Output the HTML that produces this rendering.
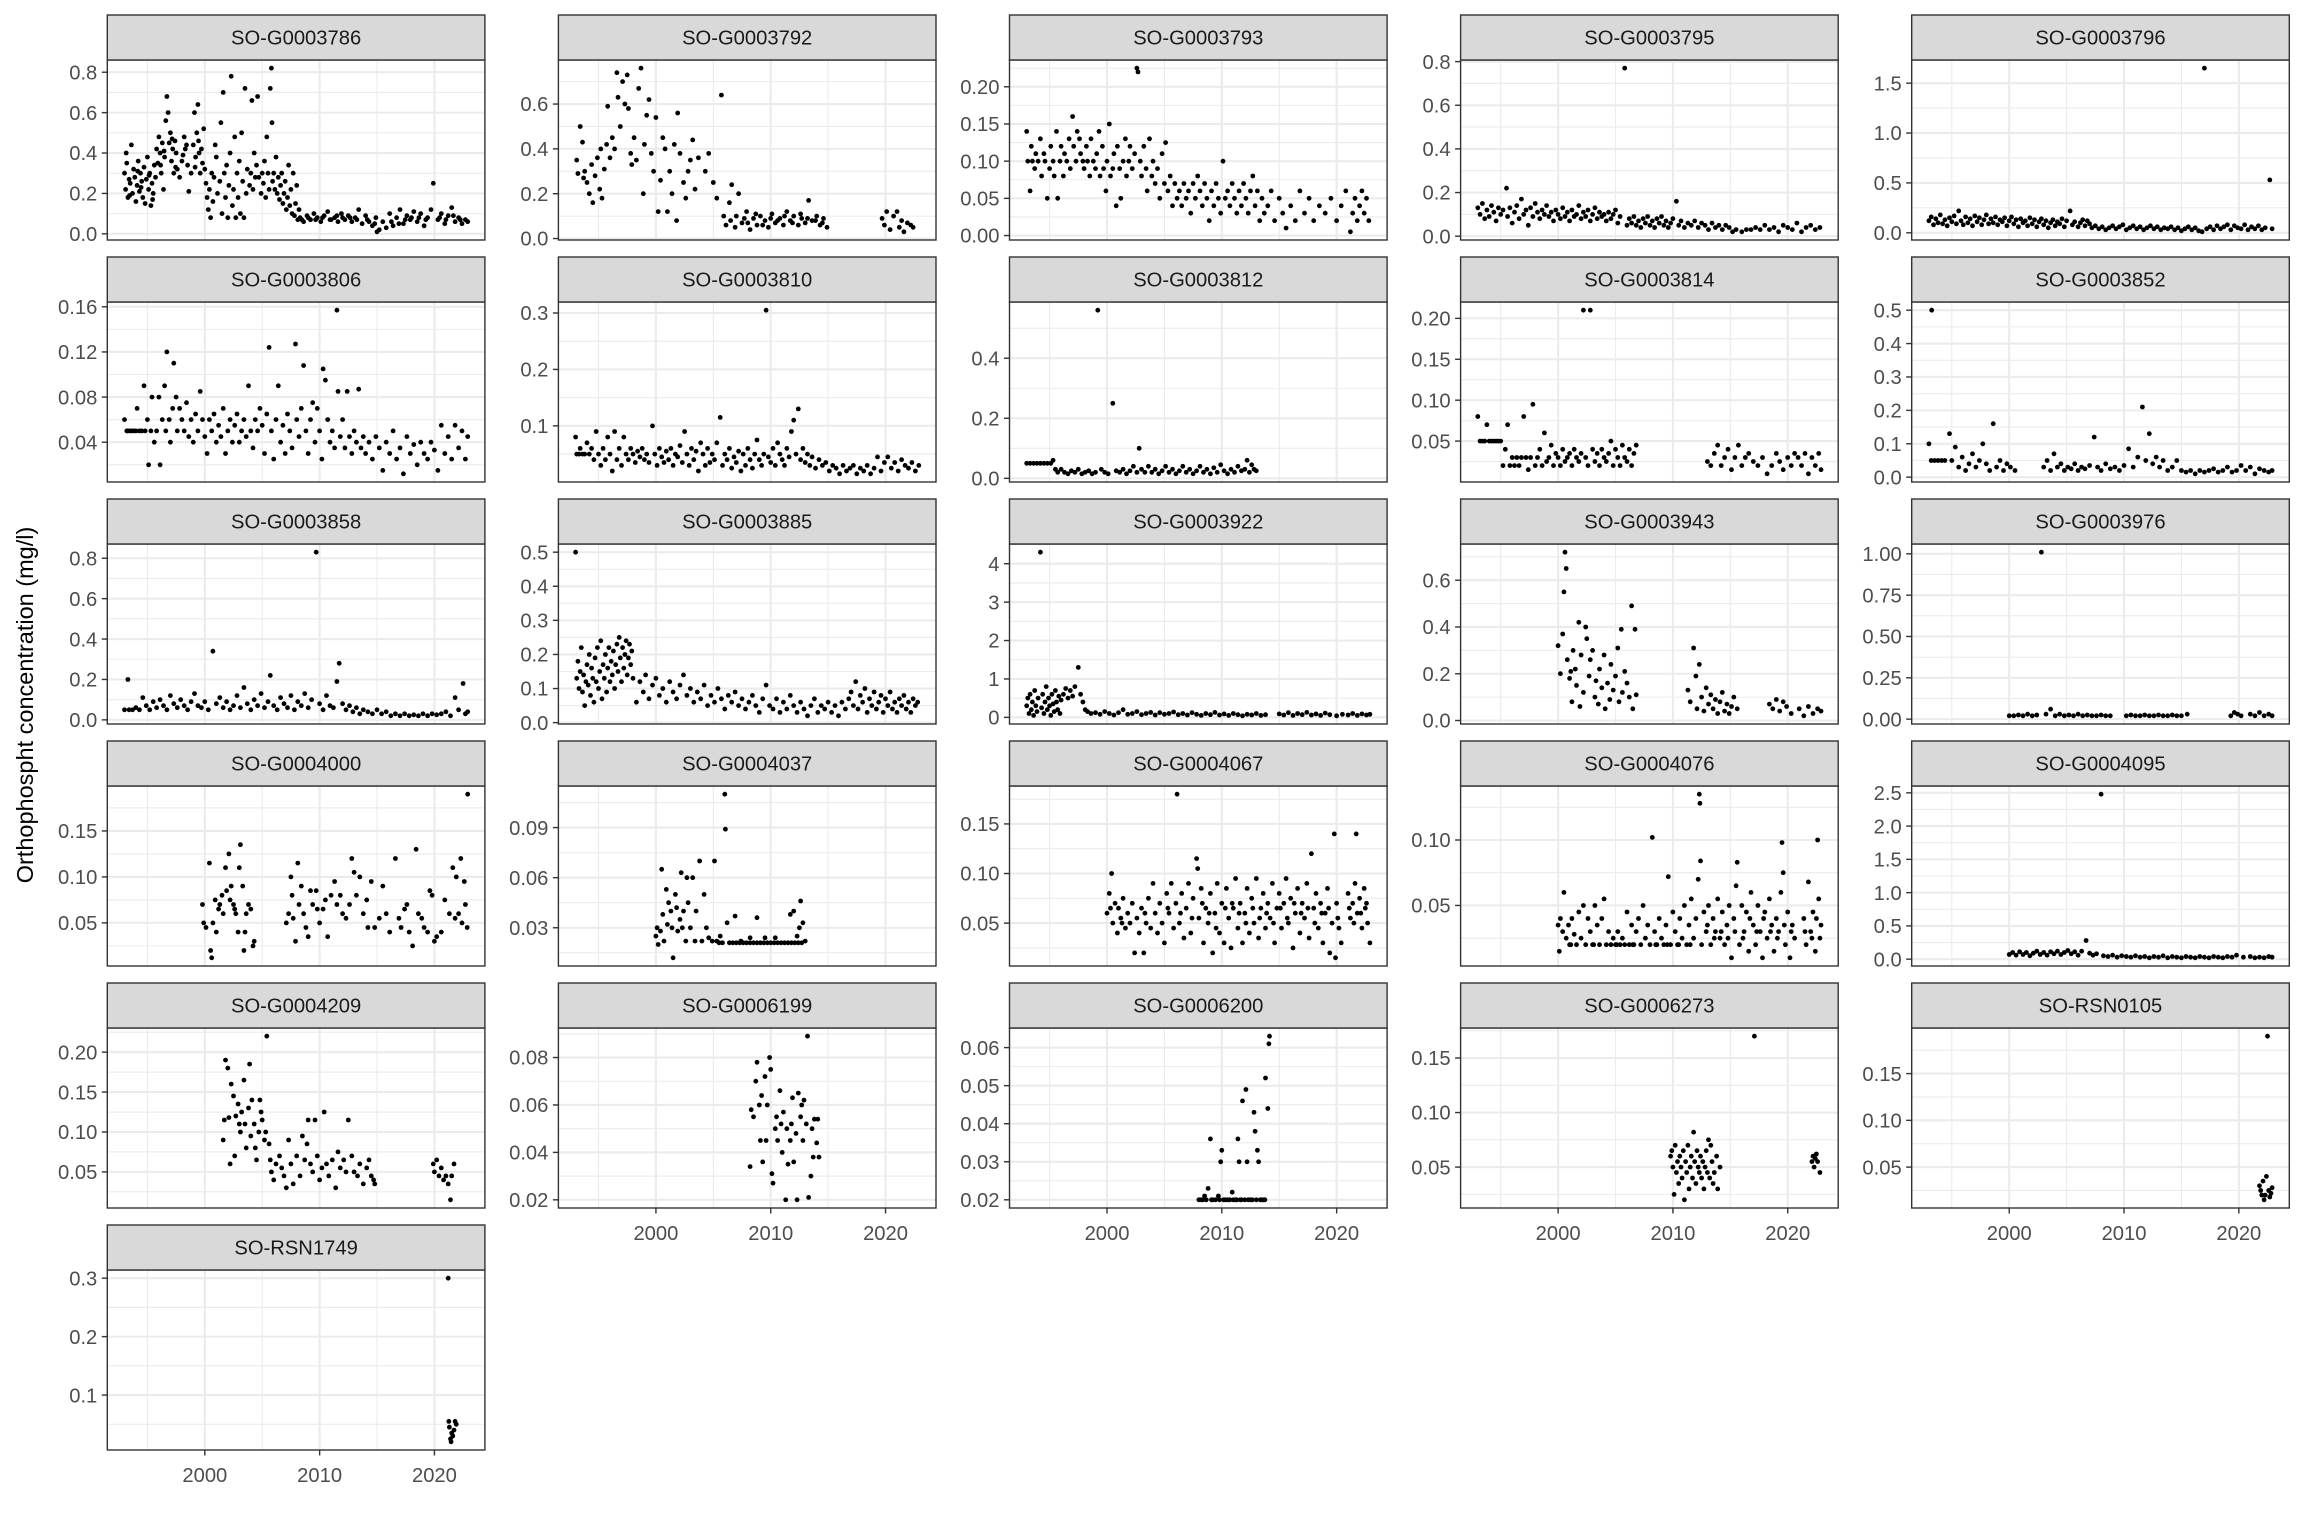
<!DOCTYPE html>
<html><head><meta charset="utf-8"><style>
html,body{margin:0;padding:0;background:#fff}
svg{display:block}
text{font-family:"Liberation Sans",sans-serif}
</style></head><body>
<svg id="chart" width="2304" height="1536" viewBox="0 0 2304 1536" xmlns="http://www.w3.org/2000/svg">
<rect x="0" y="0" width="2304" height="1536" fill="#fff"/>
<text x="0" y="0" transform="translate(33,705) rotate(-90)" text-anchor="middle" font-size="23.5" fill="#000">Orthophospht concentration (mg/l)</text>
</svg>
<script>
const stations = ["SO-G0003786","SO-G0003792","SO-G0003793","SO-G0003795","SO-G0003796","SO-G0003806","SO-G0003810","SO-G0003812","SO-G0003814","SO-G0003852","SO-G0003858","SO-G0003885","SO-G0003922","SO-G0003943","SO-G0003976","SO-G0004000","SO-G0004037","SO-G0004067","SO-G0004076","SO-G0004095","SO-G0004209","SO-G0006199","SO-G0006200","SO-G0006273","SO-RSN0105","SO-RSN1749"];
const xTicks = [2000,2010,2020];
const xMinor = [1995,2005,2015];
const xTickLabels = ["2000","2010","2020"];
const yTicks = [[0,.2,.4,.6,.8],[0,.2,.4,.6],[0,.05,.1,.15,.2],[0,.2,.4,.6,.8],[0,.5,1,1.5],[.04,.08,.12,.16],[0,.1,.2,.3],[0,.2,.4],[.05,.1,.15,.2],[0,.1,.2,.3,.4,.5],[0,.2,.4,.6,.8],[0,.1,.2,.3,.4,.5],[0,1,2,3,4],[0,.2,.4,.6],[0,.25,.5,.75,1],[.05,.1,.15],[.03,.06,.09],[.05,.1,.15],[.05,.1],[0,.5,1,1.5,2,2.5],[.05,.1,.15,.2],[.02,.04,.06,.08],[.02,.03,.04,.05,.06],[.05,.1,.15],[.05,.1,.15],[.1,.2,.3]];
const yTickLabels = [["0.0","0.2","0.4","0.6","0.8"],["0.0","0.2","0.4","0.6"],["0.00","0.05","0.10","0.15","0.20"],["0.0","0.2","0.4","0.6","0.8"],["0.0","0.5","1.0","1.5"],["0.04","0.08","0.12","0.16"],["0.0","0.1","0.2","0.3"],["0.0","0.2","0.4"],["0.05","0.10","0.15","0.20"],["0.0","0.1","0.2","0.3","0.4","0.5"],["0.0","0.2","0.4","0.6","0.8"],["0.0","0.1","0.2","0.3","0.4","0.5"],["0","1","2","3","4"],["0.0","0.2","0.4","0.6"],["0.00","0.25","0.50","0.75","1.00"],["0.05","0.10","0.15"],["0.03","0.06","0.09"],["0.05","0.10","0.15"],["0.05","0.10"],["0.0","0.5","1.0","1.5","2.0","2.5"],["0.05","0.10","0.15","0.20"],["0.02","0.04","0.06","0.08"],["0.02","0.03","0.04","0.05","0.06"],["0.05","0.10","0.15"],["0.05","0.10","0.15"],["0.1","0.2","0.3"]];

const s3786 = [1993.0,.30,1993.1,.22,1993.2,.35,1993.3,.18,1993.4,.27,1993.5,.25,1993.6,.44,1993.7,.20,1993.8,.32,1993.9,.28,1994.0,.16,1994.1,.24,1994.2,.36,1994.3,.21,1994.4,.30,1994.5,.26,1994.6,.18,1994.7,.33,1994.8,.15,1994.9,.27,1995.0,.38,1995.1,.22,1995.2,.30,1995.3,.14,1995.4,.25,1995.5,.20,1995.6,.34,1995.7,.28,1995.8,.42,1995.9,.35,1996.0,.48,1996.1,.40,1996.2,.30,1996.3,.45,1996.4,.22,1996.5,.38,1996.6,.56,1996.7,.68,1996.8,.60,1996.9,.45,1997.0,.50,1997.1,.36,1997.2,.42,1997.3,.30,1997.4,.46,1997.5,.40,1997.6,.32,1997.8,.28,1998.0,.36,1998.2,.48,1998.3,.42,1998.5,.34,1998.6,.21,1998.8,.30,1999.4,.64,1999.0,.44,1999.1,.60,1999.2,.38,1999.3,.50,1999.5,.40,1999.6,.30,1999.7,.42,1999.8,.35,1999.9,.52,2000.0,.32,2000.1,.25,2000.2,.18,2000.3,.12,2000.4,.22,2000.5,.08,2000.6,.30,2000.7,.16,2000.8,.28,2000.9,.44,2001.0,.38,2001.1,.20,2001.6,.70,2001.3,.26,2001.4,.55,2001.5,.10,2001.7,.30,2002.3,.78,2001.8,.18,2001.9,.34,2002.0,.08,2002.1,.24,2002.2,.40,2002.4,.14,2002.5,.22,2002.6,.48,2002.7,.08,2002.8,.30,2003.5,.72,2002.9,.18,2003.0,.36,2003.1,.10,2003.2,.50,2003.3,.26,2004.1,.66,2003.4,.08,2003.6,.20,2003.7,.32,2004.6,.68,2003.9,.24,2004.0,.30,2004.2,.22,2004.3,.40,2004.4,.28,2004.5,.34,2004.7,.28,2004.9,.20,2005.0,.30,2005.1,.25,2005.2,.36,2005.3,.18,2005.4,.48,2005.5,.30,2005.6,.22,2005.7,.72,2005.8,.82,2005.85,.55,2005.9,.26,2006.0,.30,2006.1,.22,2006.2,.38,2006.3,.20,2006.4,.28,2006.5,.17,2006.6,.24,2006.7,.30,2006.8,.15,2006.9,.20,2007.0,.26,2007.1,.12,2007.2,.18,2007.3,.34,2007.4,.14,2007.5,.22,2007.6,.10,2007.7,.30,2007.8,.09,2007.9,.15,2008.0,.24,2008.1,.07,2008.2,.12,2008.3,.08,2008.6,.06,2008.9,.09,2009.2,.07,2009.5,.10,2009.8,.08,2010.1,.06,2010.4,.09,2010.7,.11,2011.0,.07,2011.3,.08,2011.6,.06,2011.9,.10,2012.2,.07,2012.5,.09,2012.8,.06,2013.1,.08,2013.4,.12,2013.7,.05,2014.0,.09,2014.3,.06,2014.6,.04,2014.9,.08,2015.2,.02,2015.5,.06,2015.8,.03,2016.1,.10,2016.4,.04,2016.7,.08,2017.0,.12,2017.3,.05,2017.6,.09,2017.9,.07,2018.2,.11,2018.5,.06,2018.8,.10,2019.1,.04,2019.4,.08,2019.7,.12,2019.9,.25,2020.3,.07,2020.6,.10,2020.9,.05,2021.2,.09,2021.5,.13,2021.8,.06,2022.1,.08,2022.4,.05,2022.7,.07,2022.9,.06,2015.0,.01,1993.15,.40,1993.45,.19,1994.15,.31,1994.45,.23,1995.15,.29,1995.45,.17,1996.15,.34,1996.45,.41,1997.15,.47,1997.45,.33,1998.1,.39,1998.4,.44,1999.15,.33,1999.45,.46,2008.45,.07,2009.0,.08,2009.65,.07,2010.25,.08,2010.9,.07,2011.5,.09,2012.0,.08,2012.65,.08,2013.25,.07,2014.15,.07,2014.8,.05,2016.25,.06,2016.9,.05,2017.45,.07,2018.0,.08,2018.65,.08,2019.25,.07,2020.45,.08,2021.0,.07,2021.65,.09,2022.25,.07];
const s3792 = [1993.1,.35,1993.2,.29,1993.4,.50,1993.6,.43,1993.7,.27,1993.8,.30,1994.0,.25,1994.2,.20,1994.4,.33,1994.5,.16,1994.7,.28,1994.9,.36,1995.1,.22,1995.2,.40,1995.3,.18,1995.5,.31,1995.7,.42,1995.8,.59,1996.0,.36,1996.2,.45,1996.4,.40,1996.6,.74,1996.7,.63,1996.9,.50,1997.1,.70,1997.3,.60,1997.5,.73,1997.6,.58,1997.8,.38,1997.9,.33,1998.1,.45,1998.7,.76,1998.5,.67,1998.3,.35,1998.9,.20,1999.0,.42,1999.2,.55,1999.4,.62,1999.6,.38,1999.8,.30,2000.0,.54,2000.2,.12,2000.4,.26,2000.6,.45,2000.8,.40,2001.0,.12,2001.2,.30,2001.4,.20,2001.6,.42,2001.8,.08,2001.9,.56,2002.1,.38,2002.4,.25,2002.6,.18,2002.8,.30,2003.0,.35,2003.2,.44,2003.4,.22,2003.7,.36,2004.3,.30,2004.6,.38,2005.0,.25,2005.3,.18,2005.7,.64,2005.9,.10,2006.1,.06,2006.4,.16,2006.6,.24,2006.9,.05,2007.2,.20,2007.5,.07,2007.9,.12,2008.2,.04,2008.5,.09,2008.8,.06,2009.1,.10,2009.5,.08,2009.8,.05,2010.1,.11,2010.4,.07,2010.8,.09,2011.1,.06,2011.4,.12,2011.7,.08,2012.0,.10,2012.4,.06,2012.7,.09,2013.0,.07,2013.3,.17,2013.6,.08,2014.0,.10,2014.3,.06,2014.6,.09,2014.9,.05,2006.5,.08,2007.0,.10,2007.7,.09,2008.0,.07,2008.7,.11,2009.3,.06,2010.0,.09,2010.6,.08,2011.2,.10,2011.9,.07,2012.6,.11,2013.2,.09,2013.9,.08,2014.5,.07,2019.7,.09,2019.9,.06,2020.1,.12,2020.4,.04,2020.7,.10,2021.0,.12,2021.2,.05,2021.4,.08,2021.6,.03,2021.9,.07,2022.2,.06,2022.4,.05];
const s3793 = [1993.0,.14,1993.1,.10,1993.3,.06,1993.4,.12,1993.5,.10,1993.7,.09,1993.8,.11,1994.0,.10,1994.2,.13,1994.3,.08,1994.5,.11,1994.6,.10,1994.8,.05,1995.0,.09,1995.1,.12,1995.3,.10,1995.4,.08,1995.6,.14,1995.7,.05,1995.9,.10,1996.0,.12,1996.2,.08,1996.3,.11,1996.5,.10,1996.7,.13,1996.8,.09,1997.0,.16,1997.1,.12,1997.3,.10,1997.4,.14,1997.6,.13,1997.7,.11,1997.9,.10,1998.0,.09,1998.2,.12,1998.3,.10,1998.5,.08,1998.6,.13,1998.8,.10,1999.0,.09,1999.1,.11,1999.3,.14,1999.4,.08,1999.6,.12,1999.7,.09,1999.9,.06,2000.0,.10,2000.2,.15,2000.3,.08,2000.5,.09,2000.6,.11,2000.8,.04,2000.9,.12,2001.1,.09,2001.2,.05,2001.4,.10,2001.6,.13,2001.7,.08,2001.9,.10,2002.0,.12,2002.2,.09,2002.4,.11,2002.6,.225,2002.7,.22,2002.9,.10,2003.0,.08,2003.2,.12,2003.4,.09,2003.5,.06,2003.7,.13,2003.9,.08,2004.0,.10,2004.2,.07,2004.4,.09,2004.6,.05,2004.8,.11,2005.0,.07,2005.1,.125,2005.3,.06,2005.5,.08,2005.7,.04,2005.9,.07,2006.1,.05,2006.3,.06,2006.5,.04,2006.7,.07,2006.9,.05,2007.1,.06,2007.3,.03,2007.5,.07,2007.7,.05,2007.9,.08,2008.1,.06,2008.3,.04,2008.5,.07,2008.7,.05,2008.9,.02,2009.1,.06,2009.3,.04,2009.5,.07,2009.7,.05,2009.9,.03,2010.1,.10,2010.3,.05,2010.5,.06,2010.7,.04,2010.9,.07,2011.1,.05,2011.3,.03,2011.5,.06,2011.7,.04,2011.9,.07,2012.1,.05,2012.3,.03,2012.5,.06,2012.7,.08,2012.9,.04,2013.1,.06,2013.3,.02,2013.5,.05,2013.7,.03,2014.0,.04,2014.3,.06,2014.6,.02,2015.0,.05,2015.3,.03,2015.6,.01,2016.0,.04,2016.4,.02,2016.8,.06,2017.2,.03,2017.6,.05,2018.0,.02,2018.5,.04,2019.0,.03,2019.5,.05,2020.0,.02,2020.4,.04,2020.8,.06,2021.2,.005,2021.4,.03,2021.6,.05,2021.8,.02,2022.0,.04,2022.2,.06,2022.4,.03,2022.6,.05,2022.8,.02];
const s3795 = [1993.0,.13,1993.2,.10,1993.4,.15,1993.6,.08,1993.8,.12,1994.0,.09,1994.2,.14,1994.4,.11,1994.6,.07,1994.8,.13,1995.0,.10,1995.2,.12,1995.5,.22,1995.6,.09,1995.8,.13,1996.0,.06,1996.2,.11,1996.4,.14,1996.6,.08,1996.8,.17,1997.0,.10,1997.2,.12,1997.4,.05,1997.6,.13,1997.8,.09,1998.0,.15,1998.2,.11,1998.4,.08,1998.6,.12,1998.8,.10,1999.0,.14,1999.2,.09,1999.4,.11,1999.6,.07,1999.8,.12,2000.0,.10,2000.2,.08,2000.4,.13,2000.6,.09,2000.8,.11,2001.0,.07,2001.2,.12,2001.4,.09,2001.6,.10,2001.8,.14,2002.0,.08,2002.2,.11,2002.4,.09,2002.6,.12,2002.8,.07,2003.0,.10,2003.2,.13,2003.4,.08,2003.6,.11,2003.8,.09,2004.0,.10,2004.2,.07,2004.4,.11,2004.6,.08,2004.8,.10,2005.0,.12,2005.2,.06,2005.4,.09,2005.8,.77,2006.0,.05,2006.2,.08,2006.4,.06,2006.6,.09,2006.8,.05,2007.0,.07,2007.2,.04,2007.4,.08,2007.6,.06,2007.8,.09,2008.0,.05,2008.2,.07,2008.4,.04,2008.6,.08,2008.8,.06,2009.0,.09,2009.2,.05,2009.4,.07,2009.6,.04,2009.8,.06,2010.0,.08,2010.3,.16,2010.5,.05,2010.7,.07,2011.0,.04,2011.3,.06,2011.6,.05,2011.9,.07,2012.2,.04,2012.5,.06,2012.8,.05,2013.1,.03,2013.4,.06,2013.7,.04,2014.0,.05,2014.3,.03,2014.6,.05,2014.9,.04,2015.2,.02,2015.5,.03,2016.0,.02,2016.4,.03,2016.8,.03,2017.2,.04,2017.6,.03,2018.0,.05,2018.4,.03,2018.8,.04,2019.2,.02,2019.6,.05,2020.0,.04,2020.4,.03,2020.8,.06,2021.2,.02,2021.6,.04,2022.0,.05,2022.4,.03,2022.8,.04];
const s3796 = [1993.0,.12,1993.2,.16,1993.4,.08,1993.6,.14,1993.8,.10,1994.0,.18,1994.2,.09,1994.4,.13,1994.6,.07,1994.8,.15,1995.0,.11,1995.2,.17,1995.4,.09,1995.6,.22,1995.8,.12,1996.0,.08,1996.2,.16,1996.4,.10,1996.6,.14,1996.8,.07,1997.0,.17,1997.2,.11,1997.4,.15,1997.6,.08,1997.8,.13,1998.0,.18,1998.2,.09,1998.4,.14,1998.6,.10,1998.8,.16,1999.0,.08,1999.2,.13,1999.4,.11,1999.6,.15,1999.8,.07,2000.0,.12,2000.2,.16,2000.4,.09,2000.6,.13,2000.8,.06,2001.0,.14,2001.2,.10,2001.4,.12,2001.6,.07,2001.8,.15,2002.0,.09,2002.2,.13,2002.4,.06,2002.6,.11,2002.8,.14,2003.0,.08,2003.2,.12,2003.4,.05,2003.6,.10,2003.8,.13,2004.0,.07,2004.2,.11,2004.4,.09,2004.6,.14,2004.8,.06,2005.0,.12,2005.3,.22,2005.5,.08,2005.7,.11,2006.0,.06,2006.2,.10,2006.4,.13,2006.6,.07,2006.8,.12,2007.0,.09,2007.2,.05,2007.5,.07,2007.8,.04,2008.1,.06,2008.4,.03,2008.7,.05,2009.0,.07,2009.3,.04,2009.6,.06,2009.9,.08,2010.2,.03,2010.5,.05,2010.8,.07,2011.1,.04,2011.4,.06,2011.7,.03,2012.0,.05,2012.3,.07,2012.6,.04,2012.9,.06,2013.2,.03,2013.5,.05,2013.8,.04,2014.1,.06,2014.4,.03,2014.7,.05,2015.0,.02,2015.3,.04,2015.6,.06,2015.9,.03,2016.2,.05,2016.5,.02,2017.0,1.65,2016.8,.01,2017.2,.04,2017.5,.06,2017.8,.03,2018.1,.07,2018.4,.04,2018.7,.06,2019.0,.08,2019.3,.03,2019.6,.07,2019.9,.05,2020.2,.04,2020.5,.08,2020.8,.03,2021.1,.06,2021.4,.04,2021.7,.07,2022.0,.03,2022.3,.05,2022.7,.53,2022.9,.04];
const s3806 = [1993.0,.06,1993.2,.05,1993.3,.05,1993.5,.05,1993.6,.05,1993.8,.05,1994.0,.05,1994.1,.07,1994.3,.05,1994.5,.05,1994.7,.09,1994.8,.05,1995.0,.06,1995.1,.02,1995.3,.05,1995.4,.08,1995.6,.04,1995.8,.05,1996.0,.08,1996.1,.02,1996.3,.06,1996.5,.09,1996.6,.05,1996.7,.12,1996.9,.06,1997.0,.04,1997.2,.07,1997.3,.11,1997.5,.08,1997.6,.05,1997.8,.07,1998.0,.06,1998.2,.05,1998.4,.075,1998.6,.045,1998.8,.06,1999.0,.04,1999.2,.065,1999.4,.05,1999.6,.085,1999.8,.06,2000.0,.045,2000.2,.03,2000.4,.06,2000.6,.05,2000.8,.065,2001.0,.04,2001.2,.055,2001.4,.045,2001.6,.07,2001.8,.03,2002.0,.05,2002.2,.06,2002.4,.04,2002.6,.055,2002.8,.065,2003.0,.04,2003.2,.05,2003.4,.06,2003.6,.045,2003.8,.09,2004.0,.05,2004.2,.035,2004.4,.06,2004.6,.05,2004.8,.07,2005.0,.055,2005.2,.03,2005.4,.065,2005.6,.124,2005.8,.05,2006.0,.025,2006.2,.06,2006.4,.09,2006.6,.04,2006.8,.055,2007.0,.03,2007.2,.065,2007.4,.05,2007.6,.035,2007.9,.127,2008.0,.06,2008.2,.045,2008.4,.07,2008.6,.108,2008.8,.05,2009.0,.03,2009.2,.06,2009.4,.075,2009.6,.04,2009.8,.07,2010.0,.05,2010.2,.025,2010.3,.105,2010.5,.095,2010.7,.06,2010.9,.04,2011.1,.05,2011.3,.035,2011.5,.157,2011.6,.085,2011.8,.045,2012.0,.06,2012.2,.035,2012.4,.085,2012.6,.045,2012.8,.03,2013.0,.05,2013.2,.04,2013.4,.087,2013.6,.035,2013.8,.045,2014.0,.03,2014.3,.04,2014.6,.025,2014.9,.045,2015.2,.035,2015.5,.015,2015.8,.04,2016.1,.03,2016.4,.05,2016.7,.025,2017.0,.035,2017.3,.012,2017.6,.045,2017.9,.03,2018.2,.038,2018.5,.02,2018.8,.04,2019.1,.03,2019.4,.025,2019.7,.04,2020.0,.033,2020.3,.015,2020.6,.055,2020.9,.03,2021.2,.045,2021.5,.025,2021.8,.055,2022.1,.035,2022.4,.05,2022.7,.025,2022.9,.045];
const s3810 = [1993.0,.08,1993.1,.05,1993.3,.05,1993.4,.06,1993.6,.05,1993.8,.05,1994.0,.07,1994.2,.05,1994.4,.06,1994.6,.04,1994.8,.09,1995.0,.05,1995.2,.03,1995.4,.06,1995.6,.04,1995.8,.08,1996.0,.05,1996.2,.02,1996.4,.09,1996.6,.04,1996.8,.06,1997.0,.03,1997.2,.08,1997.4,.05,1997.6,.04,1997.8,.06,1998.0,.05,1998.2,.035,1998.4,.055,1998.6,.045,1998.8,.06,1999.0,.04,1999.2,.05,1999.4,.035,1999.7,.10,1999.9,.05,2000.1,.03,2000.3,.06,2000.5,.045,2000.7,.035,2000.9,.055,2001.1,.04,2001.3,.06,2001.5,.03,2001.7,.05,2001.9,.045,2002.1,.065,2002.3,.035,2002.5,.09,2002.7,.05,2002.9,.03,2003.1,.06,2003.3,.04,2003.5,.055,2003.7,.02,2003.9,.07,2004.1,.05,2004.3,.03,2004.5,.06,2004.7,.035,2004.9,.05,2005.1,.04,2005.3,.07,2005.6,.115,2005.8,.03,2006.0,.05,2006.2,.04,2006.4,.06,2006.6,.025,2006.8,.045,2007.0,.035,2007.2,.055,2007.4,.02,2007.6,.05,2007.8,.03,2008.0,.06,2008.2,.04,2008.4,.025,2008.6,.05,2008.8,.075,2009.0,.04,2009.2,.03,2009.4,.05,2009.6,.305,2009.8,.045,2010.0,.035,2010.2,.06,2010.4,.03,2010.6,.07,2010.8,.05,2011.0,.04,2011.2,.03,2011.4,.06,2011.6,.045,2011.8,.09,2012.0,.11,2012.2,.05,2012.4,.13,2012.6,.04,2012.8,.06,2013.0,.035,2013.2,.05,2013.4,.03,2013.6,.045,2013.9,.025,2014.2,.04,2014.5,.03,2014.8,.035,2015.1,.02,2015.4,.03,2015.7,.025,2016.0,.015,2016.3,.03,2016.6,.02,2016.9,.025,2017.2,.03,2017.5,.015,2017.8,.025,2018.1,.02,2018.4,.03,2018.7,.015,2019.0,.025,2019.3,.045,2019.6,.02,2019.9,.035,2020.2,.045,2020.5,.025,2020.8,.035,2021.1,.02,2021.4,.04,2021.7,.03,2022.0,.025,2022.3,.035,2022.6,.02,2022.9,.03];
const s3812 = [1993.0,.05,1993.3,.05,1993.6,.05,1993.9,.05,1994.2,.05,1994.5,.05,1994.8,.05,1995.1,.05,1995.3,.06,1995.5,.03,1995.7,.02,1996.0,.03,1996.3,.02,1996.6,.015,1996.9,.025,1997.2,.02,1997.5,.03,1997.8,.015,1998.1,.02,1998.4,.025,1998.7,.015,1999.0,.02,1999.2,.56,1999.5,.03,1999.8,.02,2000.1,.015,2000.5,.25,2000.8,.025,2001.1,.02,2001.4,.03,2001.7,.015,2002.0,.025,2002.3,.04,2002.6,.02,2002.8,.10,2003.0,.03,2003.3,.02,2003.6,.04,2003.9,.02,2004.2,.03,2004.5,.015,2004.8,.025,2005.1,.04,2005.4,.02,2005.7,.03,2006.0,.015,2006.3,.025,2006.6,.04,2006.9,.02,2007.2,.03,2007.5,.015,2007.8,.025,2008.1,.04,2008.4,.02,2008.7,.03,2009.0,.015,2009.3,.035,2009.6,.02,2009.9,.045,2010.2,.025,2010.5,.015,2010.8,.03,2011.1,.02,2011.4,.04,2011.7,.025,2012.0,.03,2012.2,.06,2012.4,.02,2012.6,.045,2012.8,.03,2013.0,.025];
const s3814 = [1993.0,.08,1993.2,.05,1993.4,.05,1993.6,.05,1993.8,.07,1994.0,.05,1994.2,.05,1994.4,.05,1994.6,.05,1994.8,.05,1995.0,.05,1995.2,.02,1995.4,.04,1995.6,.07,1995.8,.02,1996.0,.03,1996.2,.02,1996.4,.03,1996.6,.02,1996.8,.03,1997.0,.08,1997.2,.03,1997.4,.015,1997.6,.03,1997.8,.095,1998.0,.02,1998.2,.03,1998.4,.04,1998.6,.02,1998.8,.06,1999.0,.025,1999.2,.03,1999.4,.045,1999.6,.02,1999.8,.035,2000.0,.03,2000.2,.02,2000.4,.04,2000.6,.025,2000.8,.03,2001.0,.035,2001.2,.02,2001.4,.04,2001.6,.03,2001.8,.025,2002.0,.035,2002.2,.21,2002.4,.03,2002.6,.02,2002.8,.21,2003.0,.04,2003.2,.025,2003.4,.035,2003.6,.02,2003.8,.04,2004.0,.03,2004.2,.025,2004.4,.035,2004.6,.05,2004.8,.02,2005.0,.04,2005.2,.03,2005.4,.02,2005.6,.045,2005.8,.03,2006.0,.025,2006.2,.04,2006.4,.02,2006.6,.035,2006.8,.045,2013.0,.025,2013.3,.02,2013.6,.035,2013.9,.045,2014.2,.02,2014.5,.03,2014.8,.04,2015.1,.015,2015.4,.03,2015.7,.045,2016.0,.02,2016.3,.03,2016.6,.035,2017.0,.025,2017.4,.02,2017.8,.03,2018.2,.01,2018.6,.02,2019.0,.035,2019.3,.025,2019.6,.015,2020.0,.03,2020.3,.02,2020.6,.035,2020.9,.03,2021.2,.02,2021.5,.035,2021.8,.01,2022.1,.03,2022.4,.02,2022.7,.035,2022.9,.015];
const s3852 = [1993.0,.10,1993.2,.05,1993.25,.50,1993.5,.05,1993.8,.05,1994.1,.05,1994.4,.05,1994.8,.13,1995.0,.05,1995.3,.09,1995.6,.03,1995.9,.06,1996.2,.02,1996.5,.04,1996.8,.07,1997.1,.03,1997.4,.05,1997.7,.10,1998.0,.04,1998.3,.02,1998.6,.16,1998.9,.03,1999.2,.05,1999.5,.02,1999.8,.04,2000.1,.03,2000.5,.02,2003.0,.03,2003.3,.05,2003.6,.02,2003.9,.07,2004.2,.03,2004.5,.04,2004.8,.02,2005.1,.03,2005.4,.025,2005.7,.04,2006.0,.02,2006.3,.03,2006.6,.025,2007.0,.035,2007.4,.12,2007.7,.03,2008.0,.02,2008.4,.04,2008.8,.025,2009.2,.03,2009.6,.02,2010.0,.035,2010.4,.085,2010.8,.03,2011.2,.06,2011.6,.21,2011.9,.05,2012.2,.13,2012.5,.04,2012.8,.06,2013.1,.03,2013.4,.05,2013.8,.02,2014.2,.03,2014.6,.05,2015.0,.02,2015.4,.015,2015.8,.02,2016.2,.01,2016.6,.02,2017.0,.015,2017.4,.02,2017.8,.025,2018.2,.015,2018.6,.02,2019.0,.03,2019.4,.015,2019.8,.02,2020.2,.035,2020.6,.02,2021.0,.03,2021.4,.01,2021.8,.025,2022.2,.02,2022.6,.015,2022.9,.02];
const s3858 = [1993.0,.05,1993.3,.2,1993.4,.05,1993.7,.05,1994.0,.06,1994.3,.05,1994.6,.11,1994.9,.07,1995.2,.05,1995.5,.09,1995.8,.06,1996.1,.1,1996.4,.07,1996.7,.05,1997.0,.12,1997.3,.08,1997.6,.06,1997.9,.1,1998.2,.07,1998.5,.05,1998.8,.09,1999.1,.13,1999.4,.07,1999.7,.06,2000.0,.09,2000.3,.05,2000.7,.34,2001.0,.08,2001.3,.11,2001.6,.06,2001.9,.09,2002.2,.05,2002.5,.07,2002.8,.12,2003.1,.06,2003.4,.16,2003.7,.08,2004.0,.05,2004.3,.1,2004.6,.07,2004.9,.13,2005.2,.06,2005.5,.09,2005.7,.22,2006.0,.07,2006.3,.05,2006.6,.11,2006.9,.08,2007.2,.06,2007.5,.12,2007.8,.05,2008.1,.09,2008.4,.07,2008.7,.13,2009.0,.06,2009.3,.1,2009.7,.83,2010.0,.08,2010.3,.05,2010.6,.12,2010.9,.07,2011.2,.06,2011.5,.19,2011.7,.28,2012.0,.08,2012.3,.05,2012.6,.07,2012.9,.04,2013.2,.06,2013.5,.03,2013.8,.05,2014.2,.04,2014.6,.03,2015.0,.05,2015.4,.03,2015.8,.04,2016.2,.02,2016.6,.03,2017.0,.02,2017.4,.03,2017.8,.02,2018.2,.025,2018.6,.02,2019.0,.03,2019.4,.02,2019.8,.03,2020.2,.025,2020.6,.03,2021.0,.04,2021.4,.02,2021.8,.11,2022.1,.05,2022.5,.18,2022.7,.03,2022.9,.04];
const s3885 = [1993.0,.50,1993.1,.13,1993.2,.18,1993.3,.10,1993.4,.15,1993.5,.22,1993.6,.09,1993.7,.14,1993.8,.05,1993.9,.12,1994.0,.17,1994.1,.11,1994.2,.20,1994.3,.08,1994.4,.16,1994.5,.13,1994.6,.06,1994.7,.19,1994.8,.12,1994.9,.22,1995.0,.10,1995.1,.15,1995.2,.24,1995.3,.07,1995.4,.17,1995.5,.13,1995.6,.20,1995.7,.09,1995.8,.16,1995.9,.22,1996.0,.12,1996.1,.18,1996.2,.14,1996.3,.21,1996.4,.10,1996.5,.17,1996.6,.23,1996.7,.15,1996.8,.25,1996.9,.19,1997.0,.12,1997.1,.22,1997.2,.16,1997.3,.20,1997.4,.24,1997.5,.14,1997.6,.19,1997.7,.23,1997.8,.17,1997.9,.21,1998.0,.13,1998.3,.06,1998.6,.12,1998.9,.09,1999.1,.14,1999.4,.07,1999.7,.11,2000.0,.13,2000.3,.08,2000.6,.10,2000.9,.06,2001.2,.12,2001.5,.09,2001.8,.07,2002.1,.11,2002.4,.14,2002.7,.08,2003.0,.10,2003.3,.06,2003.6,.09,2003.9,.07,2004.2,.11,2004.5,.05,2004.8,.08,2005.1,.06,2005.4,.10,2005.7,.07,2006.0,.04,2006.3,.08,2006.6,.06,2006.9,.09,2007.2,.05,2007.5,.07,2007.8,.04,2008.1,.06,2008.4,.08,2008.7,.05,2009.0,.03,2009.3,.07,2009.6,.11,2009.9,.05,2010.2,.04,2010.5,.07,2010.8,.03,2011.1,.06,2011.4,.04,2011.7,.08,2012.0,.05,2012.3,.03,2012.6,.06,2012.9,.04,2013.2,.02,2013.5,.05,2013.8,.07,2014.1,.03,2014.4,.05,2014.7,.04,2015.0,.06,2015.3,.03,2015.6,.05,2015.9,.02,2016.2,.06,2016.5,.04,2016.8,.07,2017.0,.09,2017.2,.05,2017.4,.12,2017.6,.04,2017.8,.08,2018.0,.06,2018.2,.10,2018.4,.03,2018.6,.07,2018.8,.05,2019.0,.09,2019.2,.04,2019.4,.06,2019.6,.08,2019.8,.03,2020.0,.07,2020.2,.05,2020.4,.09,2020.6,.04,2020.8,.06,2021.0,.03,2021.2,.07,2021.4,.05,2021.6,.08,2021.8,.04,2022.0,.06,2022.2,.03,2022.4,.07,2022.6,.05,2022.8,.06];
const s3922 = [1993.0,.3,1993.1,.5,1993.2,.1,1993.3,.6,1993.4,.2,1993.5,.4,1993.6,.05,1993.7,.7,1993.8,.3,1993.9,.15,1994.0,.5,1994.2,4.3,1994.3,.25,1994.4,.6,1994.5,.1,1994.6,.4,1994.7,.8,1994.8,.2,1994.9,.5,1995.0,.3,1995.1,.05,1995.2,.6,1995.3,.35,1995.4,.15,1995.5,.7,1995.6,.4,1995.7,.2,1995.8,.55,1995.9,.1,1996.0,.45,1996.2,.6,1996.4,.75,1996.6,.5,1996.8,.7,1997.0,.55,1997.2,.8,1997.5,1.3,1997.7,.6,1997.9,.4,1998.1,.2,1998.3,.15,1998.6,.1,1999.0,.12,1999.4,.08,1999.8,.15,2000.2,.1,2000.6,.06,2001.0,.12,2001.4,.2,2001.8,.08,2002.2,.1,2002.6,.15,2003.0,.07,2003.4,.1,2003.8,.13,2004.2,.06,2004.6,.12,2005.0,.08,2005.4,.1,2005.8,.14,2006.2,.07,2006.6,.1,2007.0,.06,2007.4,.12,2007.8,.08,2008.2,.05,2008.6,.1,2009.0,.07,2009.4,.13,2009.8,.06,2010.2,.09,2010.6,.05,2011.0,.1,2011.4,.07,2011.8,.04,2012.2,.08,2012.6,.06,2013.0,.1,2013.4,.05,2013.8,.07,2015.0,.09,2015.4,.06,2015.8,.12,2016.2,.05,2016.6,.1,2017.0,.07,2017.4,.13,2017.8,.06,2018.2,.09,2018.6,.05,2019.0,.11,2019.4,.07,2020.0,.04,2020.5,.08,2021.0,.06,2021.4,.1,2021.8,.05,2022.2,.09,2022.6,.06,2022.9,.08];
const s3943 = [2000.0,.32,2000.2,.20,2000.4,.37,2000.5,.55,2000.6,.72,2000.7,.65,2000.8,.26,2001.0,.18,2001.1,.21,2001.2,.08,2001.3,.30,2001.5,.22,2001.6,.15,2001.8,.42,2001.9,.06,2002.0,.28,2002.2,.12,2002.4,.40,2002.5,.35,2002.7,.19,2002.8,.26,2003.0,.30,2003.2,.10,2003.3,.17,2003.5,.07,2003.6,.22,2003.8,.14,2004.0,.28,2004.1,.05,2004.3,.16,2004.5,.09,2004.6,.24,2004.8,.13,2005.0,.19,2005.2,.31,2005.3,.08,2005.5,.39,2005.6,.12,2005.8,.21,2006.0,.16,2006.2,.10,2006.4,.49,2006.5,.05,2006.7,.39,2006.8,.11,2011.3,.13,2011.5,.08,2011.8,.31,2012.0,.19,2012.1,.05,2012.3,.24,2012.5,.10,2012.7,.04,2012.9,.14,2013.1,.07,2013.3,.11,2013.5,.05,2013.7,.09,2013.9,.03,2014.1,.08,2014.3,.12,2014.5,.04,2014.7,.07,2014.9,.03,2015.1,.06,2015.3,.10,2015.6,.05,2018.4,.07,2018.7,.05,2019.0,.09,2019.3,.04,2019.6,.08,2019.9,.06,2020.3,.03,2021.0,.05,2021.4,.02,2021.8,.06,2022.2,.03,2022.6,.05,2022.9,.04];
const s3976 = [2000.0,.02,2000.4,.02,2000.8,.025,2001.2,.02,2001.6,.03,2002.0,.02,2002.4,.025,2002.8,1.01,2003.2,.03,2003.6,.06,2004.0,.02,2004.4,.03,2004.8,.02,2005.2,.025,2005.6,.02,2006.0,.03,2006.4,.02,2006.8,.025,2007.2,.02,2007.6,.02,2008.0,.025,2008.4,.02,2008.8,.02,2010.2,.02,2010.6,.025,2011.0,.02,2011.4,.02,2011.8,.025,2012.2,.02,2012.6,.02,2013.0,.025,2013.4,.02,2013.8,.02,2014.2,.025,2014.6,.02,2015.0,.02,2015.5,.03,2019.3,.02,2019.6,.04,2019.9,.03,2020.2,.02,2021.0,.03,2021.4,.02,2021.8,.04,2022.2,.02,2022.6,.03,2022.9,.02];
const s4000 = [1999.8,.07,1999.9,.05,2000.1,.045,2000.4,.115,2000.5,.02,2000.6,.012,2000.7,.05,2000.9,.075,2001.0,.04,2001.2,.065,2001.3,.07,2001.5,.08,2001.6,.06,2001.8,.11,2001.9,.085,2002.1,.125,2002.2,.075,2002.3,.09,2002.5,.07,2002.6,.065,2002.7,.06,2002.9,.04,2003.0,.11,2003.1,.135,2003.3,.09,2003.4,.02,2003.5,.04,2003.6,.06,2003.8,.07,2004.0,.065,2004.2,.025,2004.3,.03,2007.1,.05,2007.3,.06,2007.5,.10,2007.6,.08,2007.7,.055,2007.9,.03,2008.1,.115,2008.2,.07,2008.4,.09,2008.6,.06,2008.8,.045,2009.0,.035,2009.2,.085,2009.4,.07,2009.7,.085,2009.8,.065,2010.0,.05,2010.3,.065,2010.5,.075,2010.7,.035,2011.0,.08,2011.3,.095,2011.5,.07,2011.8,.08,2012.0,.06,2012.3,.055,2012.6,.07,2012.8,.12,2013.0,.105,2013.2,.08,2013.5,.1,2013.8,.06,2014.1,.075,2014.2,.045,2014.5,.095,2014.8,.045,2015.2,.055,2015.5,.09,2015.8,.06,2016.1,.04,2016.6,.12,2016.9,.055,2017.1,.045,2017.4,.065,2017.6,.07,2017.8,.04,2018.1,.025,2018.4,.13,2018.6,.06,2018.9,.055,2019.1,.045,2019.4,.04,2019.6,.085,2019.8,.08,2020.0,.03,2020.2,.035,2020.6,.04,2020.9,.075,2021.3,.06,2021.6,.11,2021.8,.055,2021.9,.1,2022.1,.06,2022.3,.12,2022.4,.05,2022.6,.095,2022.7,.07,2022.9,.19,2022.85,.045];
const s4037 = [2000.0,.025,2000.1,.03,2000.2,.02,2000.4,.028,2000.5,.065,2000.6,.038,2000.7,.022,2000.9,.053,2001.0,.032,2001.1,.045,2001.3,.04,2001.4,.03,2001.5,.012,2001.7,.05,2001.8,.042,2001.9,.028,2002.1,.035,2002.2,.063,2002.3,.03,2002.4,.04,2002.6,.022,2002.7,.06,2002.8,.045,2003.0,.03,2003.2,.06,2003.4,.022,2003.5,.04,2003.8,.07,2004.0,.022,2004.2,.05,2004.4,.03,2004.6,.024,2004.9,.022,2005.1,.07,2005.3,.022,2005.6,.025,2006.0,.11,2006.05,.089,2006.2,.033,2006.9,.037,2007.4,.022,2008.2,.024,2008.8,.036,2009.5,.024,2010.4,.024,2011.7,.038,2012.0,.04,2012.3,.025,2012.5,.03,2012.6,.046,2012.8,.033,2013.0,.022,2005.5,.021,2005.8,.021,2006.4,.021,2006.7,.021,2007.0,.021,2007.3,.021,2007.6,.021,2007.9,.021,2008.2,.021,2008.5,.021,2008.8,.021,2009.1,.021,2009.4,.021,2009.7,.021,2010.0,.021,2010.3,.021,2010.6,.021,2010.9,.021,2011.2,.021,2011.5,.021,2011.8,.021,2012.1,.021,2012.4,.021,2012.7,.021];
const s4067 = [2000.0,.06,2000.2,.08,2000.4,.10,2000.5,.05,2000.7,.07,2000.9,.04,2001.0,.065,2001.2,.055,2001.4,.075,2001.6,.045,2001.8,.06,2002.0,.05,2002.2,.07,2002.4,.02,2002.6,.055,2002.8,.04,2003.0,.065,2003.2,.02,2003.4,.05,2003.6,.075,2003.8,.045,2004.0,.09,2004.2,.06,2004.4,.04,2004.6,.07,2004.8,.05,2005.0,.03,2005.2,.08,2005.4,.06,2005.6,.09,2005.8,.045,2006.0,.07,2006.1,.18,2006.3,.05,2006.5,.08,2006.7,.035,2006.9,.065,2007.1,.09,2007.3,.04,2007.5,.075,2007.8,.115,2007.9,.105,2008.0,.055,2008.2,.085,2008.4,.03,2008.6,.065,2008.8,.05,2009.0,.08,2009.2,.02,2009.4,.06,2009.6,.09,2009.8,.04,2010.0,.07,2010.2,.03,2010.4,.085,2010.6,.055,2010.8,.025,2011.0,.065,2011.2,.095,2011.4,.045,2011.6,.07,2011.8,.03,2012.0,.06,2012.2,.085,2012.4,.04,2012.6,.075,2012.8,.05,2013.0,.095,2013.2,.035,2013.4,.065,2013.6,.08,2013.8,.045,2014.0,.07,2014.2,.055,2014.4,.09,2014.6,.03,2014.8,.065,2015.0,.08,2015.2,.045,2015.4,.07,2015.6,.095,2015.8,.05,2016.0,.075,2016.2,.025,2016.4,.06,2016.6,.085,2016.8,.04,2017.0,.07,2017.2,.055,2017.4,.09,2017.6,.035,2017.8,.12,2018.0,.065,2018.2,.08,2018.4,.045,2018.6,.07,2018.8,.03,2019.0,.06,2019.2,.085,2019.4,.02,2019.6,.05,2019.8,.14,2019.9,.015,2020.0,.07,2020.2,.045,2020.4,.03,2021.0,.08,2021.2,.055,2021.4,.07,2021.6,.09,2021.7,.14,2021.8,.06,2022.0,.075,2022.2,.045,2022.4,.085,2022.5,.065,2022.7,.05,2022.9,.03,2000.3,.065,2001.3,.05,2003.3,.06,2005.3,.065,2006.4,.06,2007.4,.055,2008.3,.07,2008.9,.06,2009.5,.045,2010.3,.065,2010.9,.07,2011.5,.06,2012.1,.05,2012.7,.065,2013.3,.055,2013.9,.06,2014.5,.05,2015.1,.065,2015.7,.055,2016.3,.07,2016.9,.06,2017.5,.065,2018.1,.05,2018.7,.06,2019.3,.065,2020.1,.055,2021.1,.065,2021.5,.05,2022.1,.06,2022.6,.07];
const s4076 = [2000.0,.035,2000.1,.015,2000.2,.04,2000.4,.03,2000.5,.06,2000.7,.025,2000.9,.035,2001.0,.02,2001.2,.04,2001.4,.028,2001.6,.02,2001.8,.045,2002.0,.025,2002.2,.05,2002.4,.02,2002.6,.04,2002.8,.03,2003.0,.02,2003.2,.05,2003.4,.035,2003.6,.02,2003.8,.04,2004.0,.055,2004.2,.02,2004.4,.03,2004.6,.02,2004.8,.025,2005.0,.02,2005.2,.03,2005.4,.02,2005.6,.025,2005.8,.02,2006.0,.045,2006.2,.02,2006.4,.035,2006.6,.02,2006.8,.03,2007.0,.04,2007.2,.02,2007.4,.05,2007.6,.025,2007.8,.035,2008.0,.02,2008.2,.102,2008.4,.03,2008.6,.02,2008.8,.04,2009.0,.025,2009.2,.02,2009.4,.035,2009.6,.072,2009.8,.02,2010.0,.045,2010.2,.03,2010.4,.02,2010.6,.04,2010.8,.025,2011.0,.05,2011.2,.02,2011.4,.035,2011.6,.055,2011.8,.025,2012.0,.04,2012.2,.07,2012.3,.135,2012.35,.128,2012.4,.084,2012.5,.02,2012.7,.045,2012.9,.03,2013.1,.05,2013.3,.02,2013.5,.04,2013.7,.03,2013.9,.055,2014.1,.025,2014.3,.045,2014.5,.02,2014.7,.035,2014.9,.05,2015.1,.01,2015.3,.04,2015.5,.065,2015.6,.083,2015.8,.02,2016.0,.05,2016.2,.03,2016.4,.045,2016.6,.015,2016.8,.06,2017.0,.035,2017.2,.02,2017.4,.05,2017.6,.03,2017.8,.01,2018.0,.045,2018.2,.025,2018.4,.055,2018.6,.035,2018.8,.015,2019.0,.04,2019.2,.03,2019.4,.06,2019.5,.098,2019.6,.075,2019.8,.02,2020.0,.045,2020.2,.01,2020.4,.035,2020.6,.025,2021.4,.04,2021.6,.02,2021.8,.068,2022.0,.03,2022.2,.045,2022.4,.015,2022.6,.1,2022.7,.055,2022.8,.025,2022.9,.035,2001.1,.02,2003.1,.02,2005.1,.02,2006.5,.02,2008.5,.02,2009.5,.02,2010.5,.02,2011.5,.02,2013.0,.035,2013.6,.025,2014.2,.03,2014.8,.025,2015.4,.03,2016.1,.025,2016.7,.04,2017.3,.03,2017.9,.04,2018.5,.03,2019.1,.025,2019.7,.035,2020.3,.03,2021.5,.03,2022.1,.025,2022.5,.04];
const s4095 = [2000.0,.07,2000.3,.10,2000.6,.06,2000.9,.11,2001.2,.07,2001.5,.10,2001.8,.05,2002.1,.09,2002.4,.12,2002.7,.07,2003.0,.10,2003.3,.06,2003.6,.11,2003.9,.08,2004.2,.12,2004.5,.07,2004.8,.10,2005.1,.13,2005.4,.08,2005.7,.11,2006.0,.06,2006.3,.12,2006.7,.28,2007.0,.09,2007.3,.06,2007.6,.08,2008.0,2.48,2008.2,.05,2008.6,.04,2009.0,.06,2009.4,.03,2009.8,.05,2010.2,.04,2010.6,.03,2011.0,.05,2011.4,.03,2011.8,.04,2012.2,.02,2012.6,.04,2013.0,.03,2013.4,.05,2013.8,.02,2014.2,.04,2014.6,.03,2015.0,.02,2015.4,.04,2015.8,.03,2016.2,.02,2016.6,.04,2017.0,.03,2017.4,.02,2017.8,.04,2018.2,.03,2018.6,.02,2019.0,.04,2019.4,.03,2019.8,.06,2020.4,.03,2021.0,.04,2021.4,.02,2021.8,.03,2022.2,.02,2022.6,.04,2022.9,.03];
const s4209 = [2001.6,.09,2001.7,.115,2001.8,.19,2002.0,.18,2002.1,.118,2002.2,.06,2002.3,.16,2002.5,.145,2002.6,.07,2002.7,.12,2002.9,.135,2003.0,.11,2003.1,.1,2003.2,.125,2003.4,.165,2003.5,.11,2003.6,.08,2003.8,.13,2003.9,.185,2004.0,.095,2004.1,.14,2004.3,.11,2004.4,.08,2004.5,.065,2004.7,.1,2004.8,.14,2004.9,.125,2005.0,.115,2005.2,.09,2005.3,.1,2005.4,.22,2005.6,.085,2005.7,.065,2005.8,.05,2006.0,.04,2006.2,.06,2006.5,.07,2006.7,.055,2006.9,.045,2007.1,.03,2007.3,.09,2007.5,.06,2007.7,.035,2008.0,.07,2008.3,.045,2008.5,.095,2008.7,.065,2008.9,.085,2009.0,.115,2009.2,.06,2009.4,.05,2009.6,.115,2009.8,.07,2010.0,.04,2010.2,.055,2010.4,.125,2010.6,.06,2010.8,.045,2011.1,.065,2011.4,.03,2011.6,.075,2011.8,.055,2012.1,.065,2012.3,.05,2012.5,.115,2012.8,.07,2013.0,.05,2013.3,.045,2013.5,.06,2013.8,.035,2014.1,.055,2014.3,.065,2014.5,.045,2014.7,.04,2014.8,.035,2019.9,.06,2020.0,.05,2020.2,.065,2020.4,.045,2020.6,.055,2020.8,.04,2021.0,.045,2021.2,.035,2021.4,.015,2021.5,.045,2021.7,.06];
const s6199 = [2008.2,.034,2008.3,.058,2008.5,.055,2008.7,.07,2008.8,.078,2009.0,.06,2009.1,.045,2009.2,.064,2009.3,.036,2009.5,.072,2009.6,.045,2009.7,.06,2009.9,.08,2010.0,.075,2010.1,.031,2010.2,.027,2010.4,.05,2010.5,.055,2010.6,.045,2010.8,.066,2010.9,.052,2011.0,.04,2011.1,.057,2011.3,.02,2011.4,.05,2011.5,.035,2011.7,.045,2011.8,.052,2011.9,.063,2012.0,.036,2012.2,.048,2012.3,.02,2012.4,.065,2012.6,.055,2012.7,.06,2012.8,.045,2012.9,.062,2013.1,.052,2013.2,.089,2013.3,.021,2013.5,.03,2013.6,.05,2013.7,.038,2013.8,.054,2014.0,.044,2014.1,.054,2014.2,.038];
const s6200 = [2008.2,.02,2008.5,.021,2008.8,.023,2009.0,.036,2009.2,.02,2009.7,.021,2009.9,.03,2010.0,.033,2010.3,.02,2010.9,.022,2011.2,.02,2011.4,.036,2011.5,.03,2011.7,.02,2011.8,.046,2012.1,.049,2012.2,.03,2012.5,.02,2012.8,.043,2012.9,.038,2013.1,.033,2013.2,.03,2013.5,.02,2013.6,.02,2013.8,.052,2014.0,.044,2014.1,.061,2014.15,.063,2008.0,.02,2008.35,.02,2008.65,.02,2009.1,.02,2009.45,.02,2009.8,.02,2010.15,.02,2010.5,.02,2010.7,.02,2011.0,.02,2011.3,.02,2011.6,.02,2012.0,.02,2012.3,.02,2012.65,.02,2013.0,.02,2013.35,.02,2013.75,.02];
const s6273 = [2009.8,.06,2009.9,.065,2010.0,.05,2010.1,.025,2010.2,.07,2010.3,.045,2010.4,.055,2010.5,.035,2010.6,.06,2010.7,.05,2010.8,.04,2010.9,.065,2011.0,.02,2011.1,.055,2011.2,.045,2011.3,.07,2011.4,.03,2011.5,.05,2011.6,.06,2011.7,.04,2011.8,.082,2011.9,.055,2012.0,.035,2012.1,.065,2012.2,.05,2012.3,.045,2012.4,.06,2012.5,.04,2012.6,.055,2012.7,.03,2012.8,.05,2012.9,.065,2013.0,.045,2013.1,.075,2013.2,.04,2013.3,.07,2013.4,.055,2013.5,.035,2013.6,.045,2013.8,.06,2013.9,.03,2014.1,.05,2017.1,.17,2022.1,.055,2022.2,.06,2022.3,.05,2022.4,.058,2022.5,.062,2022.6,.055,2022.8,.045];
const sR0105 = [2021.8,.03,2021.9,.025,2022.0,.02,2022.1,.035,2022.2,.015,2022.3,.02,2022.4,.04,2022.5,.19,2022.6,.025,2022.7,.018,2022.8,.022,2022.9,.028];
const sR1749 = [2021.2,.30,2021.25,.055,2021.3,.045,2021.4,.025,2021.45,.02,2021.5,.035,2021.6,.03,2021.7,.04,2021.8,.055,2021.9,.05];
const series = [s3786,s3792,s3793,s3795,s3796,s3806,s3810,s3812,s3814,s3852,s3858,s3885,s3922,s3943,s3976,s4000,s4037,s4067,s4076,s4095,s4209,s6199,s6200,s6273,sR0105,sR1749];

const NS = "http://www.w3.org/2000/svg";
const svg = document.getElementById('chart');
function mk(tag, attrs, parent){ const e=document.createElementNS(NS,tag); for(const k in attrs) e.setAttribute(k,attrs[k]); (parent||svg).appendChild(e); return e; }

const COL_X0 = 107.3, COL_PITCH = 451.1, PW = 377.6;
const ROW_Y0 = 15, ROW_PITCH = 242, STRIP_H = 45, PH = 180;
const FS = 20.2;

let gxMin = Infinity, gxMax = -Infinity;
series.forEach(s => { for (let i=0;i<s.length;i+=2){ gxMin=Math.min(gxMin,s[i]); gxMax=Math.max(gxMax,s[i]); } });
const gxr = gxMax-gxMin;
const xLo = gxMin-0.05*gxr, xHi = gxMax+0.05*gxr;

stations.forEach((name, idx) => {
  const col = idx % 5, row = Math.floor(idx / 5);
  const px = COL_X0 + col*COL_PITCH;
  const sy = ROW_Y0 + row*ROW_PITCH;
  const py = sy + STRIP_H;
  const s = series[idx];
  let ymin=Infinity, ymax=-Infinity;
  for (let i=1;i<s.length;i+=2){ ymin=Math.min(ymin,s[i]); ymax=Math.max(ymax,s[i]); }
  const yr = ymax-ymin;
  const yLo = ymin-0.05*yr, yHi = ymax+0.05*yr;
  const X = v => px + (v-xLo)/(xHi-xLo)*PW;
  const Y = v => py + PH - (v-yLo)/(yHi-yLo)*PH;

  const g = mk('g', {});
  
  
  const bg = mk('rect', {x:px, y:py, width:PW, height:PH, fill:'#fff'}, g);
  
  

  const t = yTicks[idx];
  const step = t.length>1 ? t[1]-t[0] : 0.1;
  const minors = [t[0]-step/2];
  for (let i=0;i<t.length;i++) minors.push(t[i]+step/2);
  minors.forEach(m => { if (m>yLo && m<yHi) { const l=mk('line',{x1:px,x2:px+PW,y1:Y(m),y2:Y(m),stroke:'#ebebeb','stroke-width':1.1},g);   } });
  xMinor.forEach(m => { const l=mk('line',{x1:X(m),x2:X(m),y1:py,y2:py+PH,stroke:'#ebebeb','stroke-width':1.1},g);   });
  t.forEach(v => { if (v>=yLo && v<=yHi){ const l=mk('line',{x1:px,x2:px+PW,y1:Y(v),y2:Y(v),stroke:'#ebebeb','stroke-width':2.1},g);   } });
  xTicks.forEach(v => { const l=mk('line',{x1:X(v),x2:X(v),y1:py,y2:py+PH,stroke:'#ebebeb','stroke-width':2.1},g);   });

  const pg = mk('g', {fill:'#000'}, g);
  
  
  for (let i=0;i<s.length;i+=2){
    const c = mk('circle', {cx:X(s[i]).toFixed(1), cy:Y(s[i+1]).toFixed(1), r:2.4}, pg);
    
    
  }

  const border = mk('rect', {x:px, y:py, width:PW, height:PH, fill:'none', stroke:'#333', 'stroke-width':1.4}, g);
  
  

  const st = mk('rect', {x:px, y:sy, width:PW, height:STRIP_H, fill:'#d9d9d9', stroke:'#333', 'stroke-width':1.4}, g);
  
  
  const stt = mk('text', {x:px+PW/2, y:sy+STRIP_H/2+7.2, 'text-anchor':'middle', 'font-size':FS, fill:'#1a1a1a'}, g);
  stt.textContent = name;
  
  

  t.forEach((v,i) => {
    if (v<yLo || v>yHi) return;
    const tk = mk('line', {x1:px-5.5, x2:px, y1:Y(v), y2:Y(v), stroke:'#333', 'stroke-width':1.4}, g);
    
    
    const tl = mk('text', {x:px-10, y:Y(v)+7.2, 'text-anchor':'end', 'font-size':FS, fill:'#4d4d4d'}, g);
    tl.textContent = yTickLabels[idx][i];
    
    
  });

  const isBottom = (row === 5) || (row === 4 && col > 0);
  if (isBottom) {
    xTicks.forEach((v,i) => {
      const tk = mk('line', {x1:X(v), x2:X(v), y1:py+PH, y2:py+PH+5.5, stroke:'#333', 'stroke-width':1.4}, g);
      
      
      const tl = mk('text', {x:X(v), y:py+PH+32, 'text-anchor':'middle', 'font-size':FS, fill:'#4d4d4d'}, g);
      tl.textContent = xTickLabels[i];
      
      
    });
  }
});
</script>
</body></html>
